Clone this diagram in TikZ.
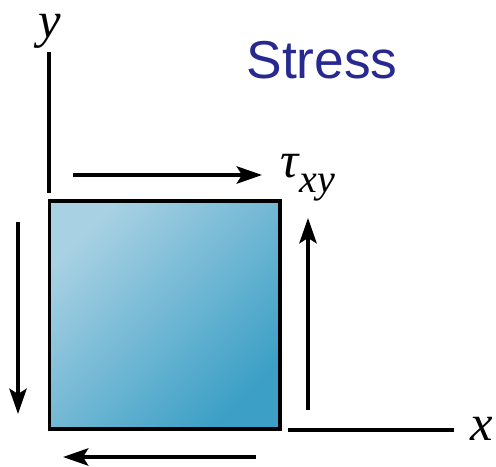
\documentclass[tikz,border=0pt]{standalone}
\usepackage{fontspec}
\setsansfont{Liberation Sans}
\newfontfamily\labelfont{Liberation Serif}
\usetikzlibrary{arrows.meta}
\definecolor{titleblue}{RGB}{40,40,145}
\definecolor{elemlight}{RGB}{168,209,227}
\definecolor{elemmid}{RGB}{140,197,220}
\definecolor{elemdark}{RGB}{60,159,198}

\begin{document}
\begin{tikzpicture}[
    x=0.75pt, y=-0.75pt,
    axis/.style={line width=2.5pt},
    arrow/.style={-{Stealth[length=19pt,width=13pt,inset=4pt]}, line width=2.5pt},
    axislabel/.style={font=\labelfont\itshape\fontsize{38}{44}\selectfont, inner sep=0pt, anchor=base},
    element/.style={
        draw,
        line width=2.5pt,
        minimum width=173pt,
        minimum height=171pt,
        inner sep=0pt,
        top color=elemlight,
        middle color=elemmid,
        bottom color=elemdark,
        shading angle=45
    }
]
\useasboundingbox (0,0) rectangle (496,467);

\node[element] (elem) at (164.5,315) {};
\node[font=\sffamily\fontsize{40}{48}\selectfont, text=titleblue, inner sep=0pt, anchor=base] (title) at (322,79) {Stress};

% axes
\coordinate (ytop) at (49,52);
\coordinate (ybot) at (49,193);
\coordinate (xleft) at (288,430);
\coordinate (xright) at (454,430);
\node[axislabel] (ylab) at (50,38) {y};
\node[axislabel] (xlab) at (482,440) {x};
\draw[axis] (ytop) -- (ybot);
\draw[axis] (xleft) -- (xright);

% shear arrows
\coordinate (topA) at (73,175);
\coordinate (topB) at (262,175);
\coordinate (rightA) at (308,410);
\coordinate (rightB) at (308,218);
\coordinate (botA) at (256,457);
\coordinate (botB) at (63,457);
\coordinate (leftA) at (18,222);
\coordinate (leftB) at (18,414);
\draw[arrow] (topA) -- (topB);
\draw[arrow] (rightA) -- (rightB);
\draw[arrow] (botA) -- (botB);
\draw[arrow] (leftA) -- (leftB);
\node[axislabel, anchor=base west] (tau) at (280,177)
    {τ\kern1pt\raisebox{-0.3em}{\fontsize{30}{32}\selectfont xy}};
\end{tikzpicture}
\end{document}
